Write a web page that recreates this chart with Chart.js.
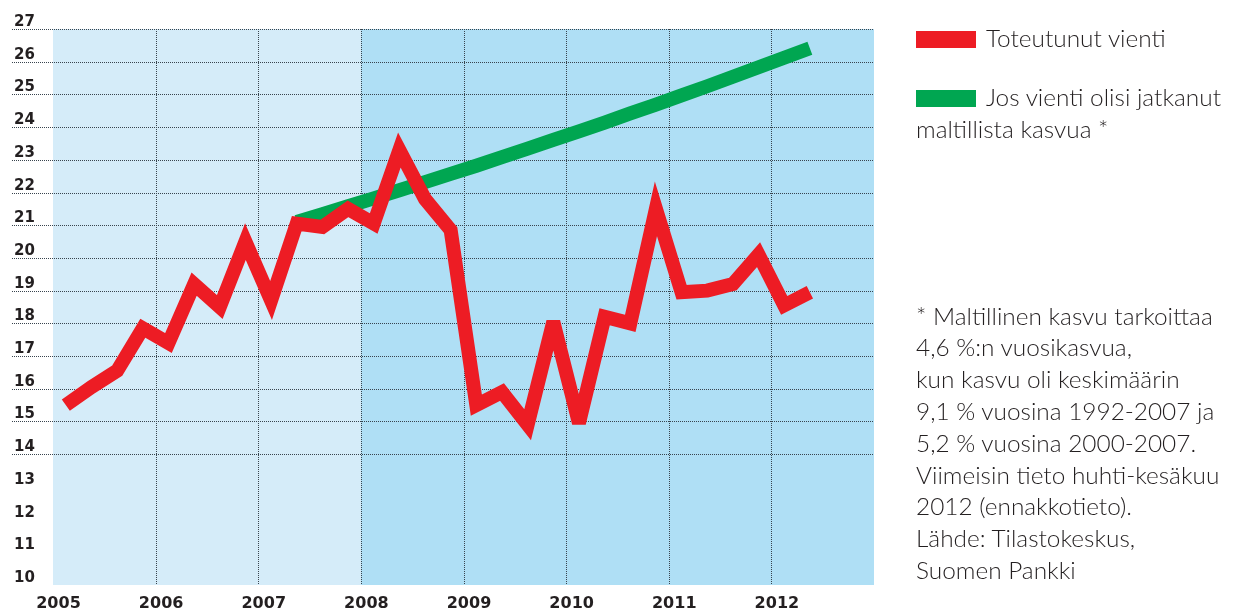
<!DOCTYPE html>
<html><head><meta charset="utf-8">
<script src="https://cdn.jsdelivr.net/npm/chart.js@4.4.1/dist/chart.umd.min.js"></script>
<style>
html,body{margin:0;padding:0;background:#fff;width:1234px;height:609px;overflow:hidden}
#wrap{position:relative;width:1234px;height:609px}
canvas{position:absolute;left:0;top:0}
.t{position:absolute;font-family:Lato,sans-serif;font-weight:300;font-size:24.4px;line-height:31.8px;color:#231f20;white-space:nowrap}
.sw{position:absolute;width:60px;height:17px}
</style></head><body>
<div id="wrap">
<canvas id="c" width="1234" height="609"></canvas>
<div class="sw" style="left:916px;top:31px;background:#ed1c24"></div>
<div class="t" style="left:986px;top:22.4px">Toteutunut vienti</div>
<div class="sw" style="left:916px;top:90px;background:#00a651"></div>
<div class="t" style="left:916px;top:81.4px;text-indent:70px">Jos vienti olisi jatkanut<br>maltillista kasvua *</div>
<div class="t" style="left:916px;top:299.7px">* Maltillinen kasvu tarkoittaa<br>4,6 %:n vuosikasvua,<br>kun kasvu oli keskimäärin<br>9,1 % vuosina 1992-2007 ja<br>5,2 % vuosina 2000-2007.<br>Viimeisin tieto huhti-kesäkuu<br>2012 (ennakkotieto).<br>Lähde: Tilastokeskus,<br>Suomen Pankki</div>
</div>
<script>
const years = ['2005','2006','2007','2008','2009','2010','2011','2012'];
const quarterNames = ['Q1','Q2','Q3','Q4'];
const yTicks = [10,11,12,13,14,15,16,17,18,19,20,21,22,23,24,25,26,27];
const gridFromValue = 14;
const shadedFromYear = '2008';
// Toteutunut vienti, quarterly 2005 Q1 – 2012 Q2
const actualExports = [15.5, 16.05, 16.55, 17.85, 17.4, 19.2, 18.5, 20.5, 18.7, 21.05, 20.95, 21.5,
  21.05, 23.3, 21.8, 20.85, 15.5, 15.9, 14.9, 18.05, 14.95, 18.2, 18.0, 21.5, 18.95, 19.0, 19.2, 20.1,
  18.55, 18.95];
// Jos vienti olisi jatkanut maltillista kasvua, quarterly 2007 Q2 – 2012 Q2
const growthStartQuarter = '2007 Q2';
const moderateGrowth = [21.10, 21.34, 21.58, 21.82, 22.07, 22.32, 22.57, 22.82, 23.08, 23.34, 23.61,
  23.87, 24.14, 24.42, 24.69, 24.97, 25.25, 25.54, 25.83, 26.12, 26.41];

const quarters = years.flatMap(y => quarterNames.map(q => y + ' ' + q));
const gStart = quarters.indexOf(growthStartQuarter);
const growthData = quarters.map((q, i) => (i >= gStart && i - gStart < moderateGrowth.length) ? moderateGrowth[i - gStart] : null);

const decor = {
  id: 'decor',
  beforeDatasetsDraw(chart) {
    const {ctx, chartArea: a, scales: {x, y}} = chart;
    const half = (x.getPixelForValue(1) - x.getPixelForValue(0)) / 2;
    const yearStart = i => x.getPixelForValue(i * 4) - half;
    const split = yearStart(years.indexOf(shadedFromYear));
    ctx.save();
    ctx.fillStyle = '#d5ecf9';
    ctx.fillRect(a.left, a.top, split - a.left, a.bottom - a.top);
    ctx.fillStyle = '#afdff5';
    ctx.fillRect(split, a.top, a.right - split, a.bottom - a.top);
    ctx.strokeStyle = '#38444e';
    ctx.lineWidth = 1;
    ctx.setLineDash([1, 1]);
    yTicks.filter(v => v >= gridFromValue).forEach(v => {
      const py = Math.round(y.getPixelForValue(v)) + 0.5;
      ctx.beginPath(); ctx.moveTo(12, py); ctx.lineTo(a.right, py); ctx.stroke();
    });
    for (let i = 1; i < years.length; i++) {
      const px = Math.round(yearStart(i)) + 0.5;
      ctx.beginPath(); ctx.moveTo(px, a.top); ctx.lineTo(px, a.bottom); ctx.stroke();
    }
    ctx.restore();
    ctx.miterLimit = 4;
  },
  afterDraw(chart) {
    const {ctx, scales: {x, y}} = chart;
    const half = (x.getPixelForValue(1) - x.getPixelForValue(0)) / 2;
    const yearStart = i => x.getPixelForValue(i * 4) - half;
    ctx.save();
    ctx.fillStyle = '#231f20';
    ctx.textBaseline = 'alphabetic';
    ctx.font = 'bold 15px "DejaVu Sans"';
    ctx.textAlign = 'left';
    yTicks.forEach(v => ctx.fillText(String(v), 14, Math.round(y.getPixelForValue(v)) - 3));
    ctx.font = 'bold 16px "DejaVu Sans"';
    ctx.textAlign = 'center';
    years.forEach((yr, i) => ctx.fillText(yr, yearStart(i) + 5.5, 608));
    ctx.restore();
  }
};

new Chart(document.getElementById('c'), {
  type: 'line',
  data: {
    labels: quarters,
    datasets: [
      {label: 'Toteutunut vienti', data: actualExports, borderColor: '#ed1c24', backgroundColor: '#ed1c24',
       borderWidth: 14, pointRadius: 0, tension: 0, borderJoinStyle: 'miter', borderCapStyle: 'butt', fill: false, order: 0},
      {label: 'Jos vienti olisi jatkanut maltillista kasvua *', data: growthData, borderColor: '#00a651', backgroundColor: '#00a651',
       borderWidth: 14, pointRadius: 0, tension: 0, borderJoinStyle: 'miter', borderCapStyle: 'butt', fill: false, order: 1}
    ]
  },
  options: {
    responsive: false,
    animation: false,
    events: [],
    layout: {padding: {left: 53, right: 360, top: 29, bottom: 24}},
    plugins: {legend: {display: false}, tooltip: {enabled: false}},
    scales: {
      x: {type: 'category', offset: true, display: false},
      y: {min: 10, max: 27, display: false}
    }
  },
  plugins: [decor]
});
</script>
</body></html>
